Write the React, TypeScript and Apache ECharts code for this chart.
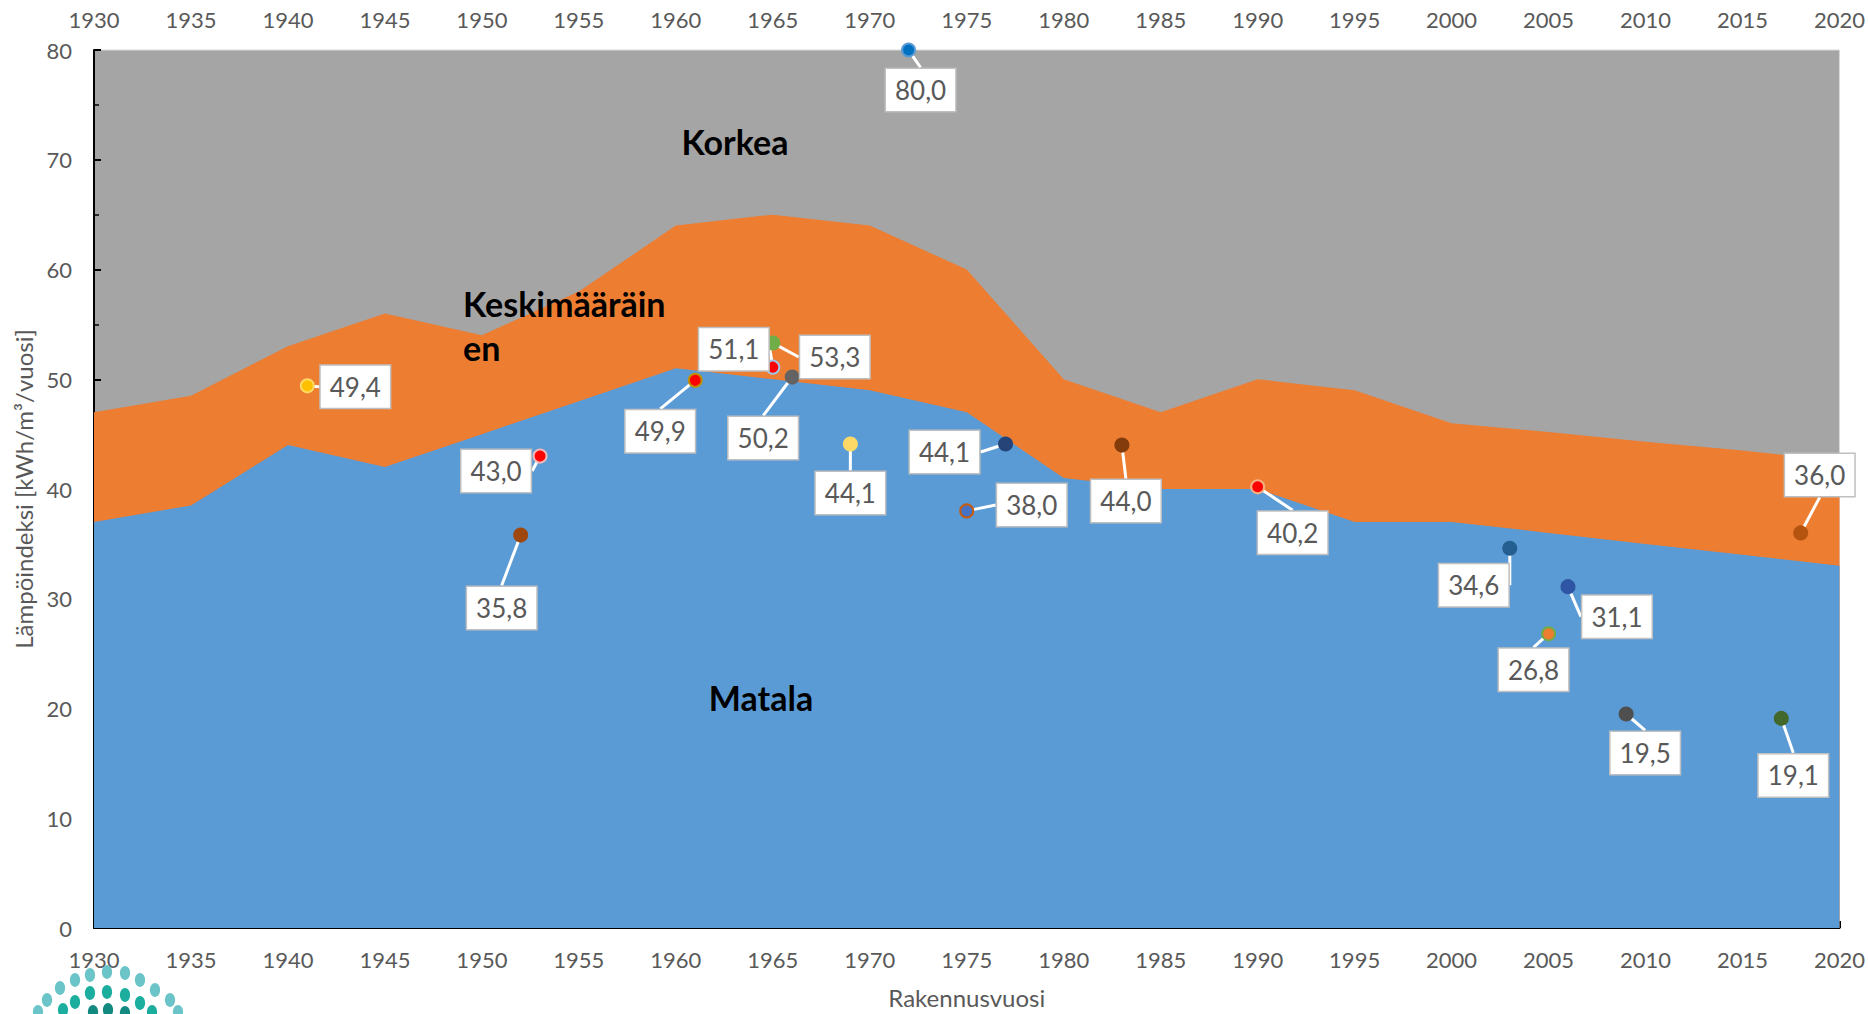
import React, { useEffect, useRef } from "react";
import * as echarts from "echarts";

// ---- Data ----
const years = [1930, 1935, 1940, 1945, 1950, 1955, 1960, 1965, 1970, 1975, 1980, 1985, 1990, 1995, 2000, 2005, 2010, 2015, 2020];
// Upper boundary of the "Keskimääräinen" (orange) band
const keskiTop = [47, 48.5, 53, 56, 54, 58, 64, 65, 64, 60, 50, 47, 50, 49, 46, 45.2, 44.3, 43.5, 42.6];
// Upper boundary of the "Matala" (blue) band
const matalaTop = [37, 38.5, 44, 42, 45, 48, 51, 50, 49, 47, 41, 40, 40, 37, 37, 36, 35, 34, 33];

// Individual buildings: construction year and heat index
const pointYears = [1941, 1952, 1953, 1961, 1965, 1965, 1966, 1969, 1972, 1975, 1977, 1983, 1990, 2003, 2005, 2006, 2009, 2017, 2018];
const pointValues = [49.4, 35.8, 43.0, 49.9, 51.1, 53.3, 50.2, 44.1, 80.0, 38.0, 44.1, 44.0, 40.2, 34.6, 26.8, 31.1, 19.5, 19.1, 36.0];

// ---- Styling (not data) ----
const pointFill = ["#FFC000", "#9E480E", "#FF0000", "#FF0000", "#FF0000", "#70AD47", "#636363", "#FFD966", "#0070C0", "#4472C4", "#264478", "#843C0C", "#FF0000", "#255E91", "#ED7D31", "#2F55A4", "#4F4F4F", "#43682B", "#B4540F"];
const pointBorder = ["#FFD966", "#9E480E", "#F2B8B8", "#BF9000", "#9DC3E6", "#70AD47", "#636363", "#FFD966", "#5B9BD5", "#C55A11", "#264478", "#843C0C", "#F4B183", "#255E91", "#70AD47", "#2F55A4", "#4F4F4F", "#43682B", "#B4540F"];
const labelOffsets: [number, number][] = [
  [48, 1], [-19, 73], [-44, 15], [-35, 51], [-39, -18], [62, 14], [-29, 61], [0, 49], [12, 40], [65, -6],
  [-61, 8], [4, 56], [35, 46], [-36, 37], [-15, 36], [49, 30], [19, 39], [12, 57], [19, -58],
];

const FONT = "Lato, 'Noto Sans', sans-serif";
const TXT = "#595959";

const logoDots: [number, number, number, string][] = [
  [75, 980, 6, "#6AC4C8"], [90, 975, 6, "#6AC4C8"], [107, 972, 6, "#6AC4C8"], [125, 973, 6, "#6AC4C8"],
  [140, 980, 6, "#6AC4C8"], [155, 990, 6, "#6AC4C8"], [170, 1000, 6, "#6AC4C8"], [178, 1012, 6, "#6AC4C8"],
  [60, 988, 6, "#6AC4C8"], [47, 1000, 6, "#6AC4C8"], [38, 1012, 6, "#6AC4C8"],
  [75, 1002, 6, "#1BAE9F"], [90, 993, 6, "#1BAE9F"], [107, 992, 6, "#1BAE9F"], [125, 995, 6, "#1BAE9F"],
  [140, 1003, 6, "#1BAE9F"], [152, 1012, 6, "#1BAE9F"], [63, 1010, 6, "#1BAE9F"],
  [93, 1012, 6, "#138A80"], [108, 1010, 6, "#138A80"], [125, 1013, 6, "#138A80"],
];

export default function App() {
  const ref = useRef<HTMLDivElement>(null);

  useEffect(() => {
    if (!ref.current) return;
    const chart = echarts.init(ref.current, null, { renderer: "svg" });

    const fmt = (v: number) => v.toFixed(1).replace(".", ",");

    const scatterData = pointYears.map((y, i) => ({
      value: [y, pointValues[i]],
      itemStyle: { color: pointFill[i], borderColor: pointBorder[i], borderWidth: 2, opacity: 1 },
    }));

    const axisLabelStyle = {
      fontSize: 22,
      color: TXT,
      fontFamily: FONT,
      formatter: (v: number) => String(v),
    };

    const areaText = (text: string, x: number, y: number, align: string) => ({
      type: "text",
      x,
      y,
      style: { text, fontSize: 34, fontWeight: "bold", fontFamily: FONT, fill: "#000", align, verticalAlign: "middle" },
      z: 10,
    });

    chart.setOption({
      animation: false,
      textStyle: { fontFamily: FONT },
      grid: {
        left: 94,
        right: 28,
        top: 50,
        bottom: 86,
        show: true,
        backgroundColor: "#A5A5A5",
        borderColor: "#D9D9D9",
        borderWidth: 1,
        containLabel: false,
      },
      xAxis: [
        {
          type: "value",
          position: "bottom",
          min: 1930,
          max: 2020,
          interval: 5,
          axisLine: { show: true, onZero: false, lineStyle: { color: "#000", width: 2 } },
          axisTick: { show: true, inside: true, length: 7, lineStyle: { color: "#000", width: 2 } },
          axisLabel: { ...axisLabelStyle, margin: 20 },
          splitLine: { show: false },
          name: "Rakennusvuosi",
          nameLocation: "middle",
          nameGap: 57,
          nameTextStyle: { fontSize: 24, color: TXT, fontFamily: FONT },
        },
        {
          type: "value",
          position: "top",
          min: 1930,
          max: 2020,
          interval: 5,
          axisLine: { show: false },
          axisTick: { show: false },
          axisLabel: { ...axisLabelStyle, margin: 20 },
          splitLine: { show: false },
        },
      ],
      yAxis: {
        type: "value",
        min: 0,
        max: 80,
        interval: 10,
        axisLine: { show: true, lineStyle: { color: "#000", width: 2 } },
        axisTick: { show: true, inside: true, length: 7, lineStyle: { color: "#000", width: 2 } },
        minorTick: { show: true, splitNumber: 2, length: 5, lineStyle: { color: "#000", width: 1.5 } },
        axisLabel: { ...axisLabelStyle, margin: 22 },
        splitLine: { show: false },
        name: "Lämpöindeksi [kWh/m³/vuosi]",
        nameLocation: "middle",
        nameGap: 57,
        nameRotate: 90,
        nameTextStyle: { fontSize: 24, color: TXT, fontFamily: FONT },
      },
      series: [
        {
          name: "Keskimääräinen",
          type: "line",
          data: years.map((y, i) => [y, keskiTop[i]]),
          symbol: "none",
          lineStyle: { width: 0 },
          areaStyle: { color: "#ED7D31", opacity: 1 },
          z: 1,
        },
        {
          name: "Matala",
          type: "line",
          data: years.map((y, i) => [y, matalaTop[i]]),
          symbol: "none",
          lineStyle: { width: 0 },
          areaStyle: { color: "#5B9BD5", opacity: 1 },
          z: 2,
        },
        {
          name: "Rakennukset",
          type: "scatter",
          data: scatterData,
          symbolSize: 13,
          itemStyle: { opacity: 1 },
          z: 5,
          label: {
            show: true,
            position: "inside",
            formatter: (p: any) => fmt(p.value[1]),
            backgroundColor: "#fff",
            borderColor: "#BFBFBF",
            borderWidth: 1.5,
            padding: [9, 9, 7, 9],
            fontSize: 26,
            fontFamily: FONT,
            color: TXT,
            opacity: 1,
            align: "center",
            verticalAlign: "middle",
          },
          labelLine: { show: true, lineStyle: { color: "#FFFFFF", width: 3, opacity: 1 } },
          labelLayout: (params: any) => ({
            dx: labelOffsets[params.dataIndex][0],
            dy: labelOffsets[params.dataIndex][1],
          }),
        },
      ],
      graphic: [
        areaText("Korkea", 735, 141, "center"),
        areaText("Keskimääräin", 463, 303, "left"),
        areaText("en", 463, 347, "left"),
        areaText("Matala", 761, 697, "center"),
        ...logoDots.map(([cx, cy, r, c]) => ({
          type: "ellipse",
          shape: { cx, cy, rx: r * 0.85, ry: r * 1.15 },
          style: { fill: c },
          z: 10,
        })),
      ],
    });

    return () => chart.dispose();
  }, []);

  return (
    <div
      ref={ref}
      style={{ position: "absolute", left: 0, top: 0, width: 1868, height: 1014, background: "#fff" }}
    />
  );
}
